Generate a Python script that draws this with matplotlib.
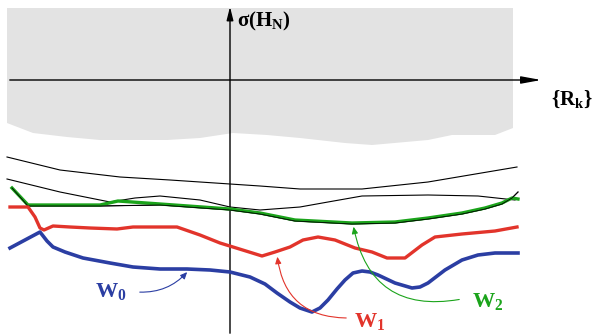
import matplotlib.pyplot as plt
from matplotlib.patches import FancyArrowPatch

plt.rcParams['mathtext.fontset'] = 'custom'
plt.rcParams['mathtext.rm'] = 'Liberation Serif'
plt.rcParams['mathtext.bf'] = 'Liberation Serif:bold'

# Shaded region (top edge at y=8, wavy lower edge)
shade_x = [7, 513, 513, 495, 452, 428, 372, 345, 300, 267, 233, 200, 167, 100, 67, 33, 7]
shade_y = [8, 8, 128, 135, 135, 140, 145, 143, 138, 135, 133, 138, 140, 140, 137, 133, 123]

# Thin black curves
a_x = [7, 60, 120, 170, 230, 260, 300, 362, 428, 517]
a_y = [157, 170, 177, 180, 184, 186, 189, 189, 182, 167]
b_x = [7, 60, 110, 135, 160, 200, 230, 260, 300, 328, 362, 428, 478, 515]
b_y = [179, 192, 202, 198, 196, 200, 207, 210, 207, 202, 196, 195, 196, 200]
c_x = [12, 28, 100, 160, 230, 260, 295, 352, 395, 428, 462, 485, 502, 512, 518]
c_y = [188, 206, 206, 205, 210, 214, 221, 224, 223, 219, 214, 209, 204, 198, 192]

# W0 (blue)
w0_x = [10, 25, 40, 47, 53, 65, 83, 110, 133, 160, 187, 210, 230, 250, 265, 277, 290, 300,
        312, 320, 328, 337, 345, 353, 362, 370, 378, 395, 412, 420, 428, 445, 462, 478, 495, 518]
w0_y = [248, 240, 232, 241, 247, 252, 258, 263, 267, 269, 269, 270, 272, 277, 284, 293, 302, 308,
        312, 308, 300, 289, 280, 273, 271, 272, 275, 283, 288, 287, 283, 270, 260, 255, 253, 253]

# W1 (red)
w1_x = [10, 28, 35, 40, 44, 53, 70, 90, 117, 133, 177, 200, 220, 233, 262, 275, 290, 303,
        318, 335, 355, 372, 387, 405, 422, 435, 462, 495, 517]
w1_y = [207, 207, 217, 228, 230, 226, 227, 228, 229, 227, 227, 235, 243, 247, 256, 252, 247, 240,
        237, 240, 248, 252, 258, 258, 245, 237, 234, 231, 227]

# W2 (green)
w2_x = [12, 28, 100, 118, 160, 230, 260, 295, 352, 395, 428, 462, 485, 502, 512, 518]
w2_y = [188, 205, 205, 201, 204, 209, 213, 220, 223, 222, 218, 213, 208, 203, 198, 199]

blue = '#2b3ea3'
red = '#e2342b'
green = '#1ba41b'

fig = plt.figure(figsize=(5.95, 3.36), dpi=100)
ax = fig.add_axes([0, 0, 1, 1])
ax.set_xlim(0, 595)
ax.set_ylim(336, 0)
ax.axis('off')

ax.fill(shade_x, shade_y, color='#e3e3e3', lw=0, zorder=0)

# axes
ax.annotate('', xy=(230, 4), xytext=(230, 336),
            arrowprops=dict(arrowstyle='-|>,head_length=0.8,head_width=0.2', color='black', lw=1.0))
ax.annotate('', xy=(544, 80), xytext=(7, 80),
            arrowprops=dict(arrowstyle='-|>,head_length=1.2,head_width=0.22', color='black', lw=1.0))
ax.text(237, 21, r'$\mathbf{σ(H_N)}$', fontsize=15, va='center', ha='left')
ax.text(551, 99, r'$\mathbf{\{R_k\}}$', fontsize=15, va='center', ha='left')

for xs, ys in [(a_x, a_y), (b_x, b_y), (c_x, c_y)]:
    ax.plot(xs, ys, color='black', lw=0.8, zorder=2)

ax.plot(w2_x, w2_y, color=green, lw=2.4, zorder=3, solid_joinstyle='round')
ax.plot(c_x, c_y, color='black', lw=0.6, zorder=3.5)
ax.plot(w1_x, w1_y, color=red, lw=2.4, zorder=4, solid_joinstyle='round')
ax.plot(w0_x, w0_y, color=blue, lw=2.6, zorder=5, solid_joinstyle='round')

# labels with curved pointers
labels = [('W', '0', 111, 292, blue, (137, 292), (189, 270), 0.25),
          ('W', '1', 370, 321, red, (349, 318), (277, 254), -0.45),
          ('W', '2', 488, 301, green, (462, 299), (353, 224), -0.5)]
for base, sub, lx, ly, col, p0, p1, rad in labels:
    ax.text(lx, ly, r'$\mathbf{%s_%s}$' % (base, sub), fontsize=16, color=col,
            ha='center', va='center')
    ax.add_patch(FancyArrowPatch(p0, p1, connectionstyle='arc3,rad=%s' % rad,
                                 arrowstyle='-|>,head_length=4,head_width=1.8',
                                 color=col, lw=0.8, zorder=6))

fig.savefig('out.png', dpi=100)
